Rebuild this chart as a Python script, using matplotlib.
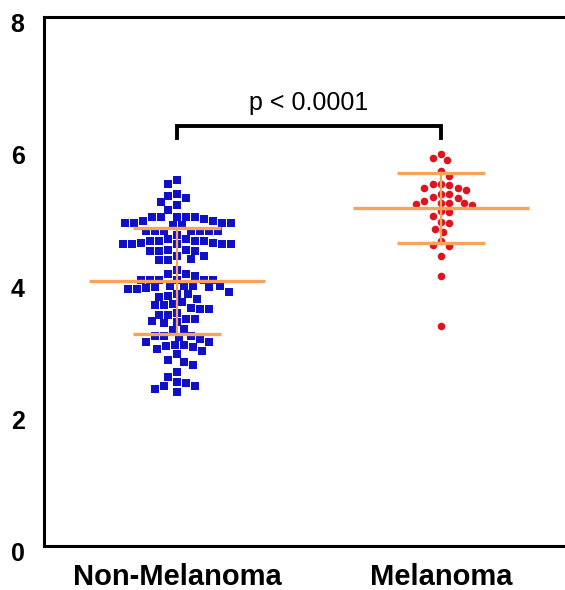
import numpy as np
import matplotlib
matplotlib.use('Agg')
import matplotlib.pyplot as plt
import matplotlib.transforms as mtransforms

plt.rcParams['font.family'] = ['Liberation Sans', 'DejaVu Sans']

# values
groups = ['Non-Melanoma', 'Melanoma']
non_melanoma = [5.53, 5.47, 5.33, 5.30, 5.27, 5.20, 5.15, 5.08,
                4.98, 4.98, 4.98, 4.98, 4.97, 4.94, 4.92, 4.91, 4.89, 4.89, 4.89, 4.89, 4.86, 4.86,
                4.77, 4.77, 4.77, 4.77, 4.77, 4.76, 4.76, 4.71, 4.64, 4.64, 4.62, 4.62, 4.61, 4.61,
                4.58, 4.58, 4.56, 4.56, 4.56, 4.56, 4.56,
                4.47, 4.47, 4.46, 4.46, 4.46, 4.38, 4.38, 4.34, 4.32, 4.32,
                4.18, 4.12, 4.11, 4.09, 4.03, 4.03, 4.03, 4.03, 4.03, 4.03,
                3.93, 3.93, 3.93, 3.93, 3.91, 3.91, 3.90, 3.88, 3.88, 3.84, 3.81, 3.81, 3.78, 3.76, 3.73,
                3.69, 3.66, 3.64, 3.64, 3.60, 3.58, 3.58, 3.52, 3.50, 3.50, 3.44, 3.43, 3.40, 3.38, 3.37,
                3.28, 3.26, 3.17, 3.17, 3.17, 3.16, 3.13, 3.08, 3.08, 3.04, 3.04, 3.02, 3.01, 2.98, 2.95, 2.90,
                2.82, 2.79, 2.73, 2.63, 2.55, 2.48, 2.46, 2.42, 2.42, 2.37, 2.33]
melanoma = [5.93, 5.87, 5.83, 5.67, 5.59, 5.48, 5.46, 5.48, 5.42, 5.41, 5.38, 5.33, 5.32,
            5.27, 5.28, 5.22, 5.19, 5.18, 5.18, 5.17, 5.16, 5.06, 5.05, 4.99, 4.90, 4.88,
            4.80, 4.75, 4.61, 4.55, 4.53, 4.38, 4.09, 3.32]
means = [4.01, 5.11]
sds = [0.80, 0.53]
p_text = 'p < 0.0001'
yticks = [0, 2, 4, 6, 8]


def swarm(values, xscale, yscale, d):
    # simple beeswarm in pixel space, nearest free slot to the centre
    vals = np.asarray(values)
    order = np.argsort(vals)[::-1]
    placed = []
    offsets = np.zeros(len(vals))
    flip = 1
    for i in order:
        y = vals[i] * yscale
        best = None
        for k in range(0, 80):
            for sgn in ([0] if k == 0 else [flip, -flip]):
                x = sgn * k * d / 4
                if all((x - px) ** 2 + (y - py) ** 2 >= d * d for px, py in placed):
                    best = x
                    break
            if best is not None:
                break
        flip = -flip
        placed.append((best, y))
        offsets[i] = best / xscale
    return offsets


fig = plt.figure(figsize=(5.65, 5.90), dpi=100)
ax = fig.add_axes([44 / 565, 44 / 590, 530 / 565, 529 / 590])
ax.set_xlim(0.496, 2.504)
ax.set_ylim(0, 8)

xscale = ax.bbox.width / (ax.get_xlim()[1] - ax.get_xlim()[0])
yscale = ax.bbox.height / (ax.get_ylim()[1] - ax.get_ylim()[0])

orange = '#f5a45a'
styles = [dict(marker='s', color='#1010c8', s=27, d=9.0),
          dict(marker='o', color='#de1420', s=30, d=8.4)]

for i, (vals, st) in enumerate(zip([non_melanoma, melanoma], styles)):
    xc = i + 1
    offs = swarm(vals, xscale, yscale, st['d'])
    ax.scatter(xc + offs, vals, marker=st['marker'], c=st['color'], s=st['s'],
               linewidths=0, zorder=2)
    m, sd = means[i], sds[i]
    ax.plot([xc - 0.335, xc + 0.335], [m, m], color=orange, lw=2.4, zorder=3, solid_capstyle='butt')
    ax.plot([xc - 0.165, xc + 0.165], [m + sd, m + sd], color=orange, lw=2.4, zorder=3, solid_capstyle='butt')
    ax.plot([xc - 0.165, xc + 0.165], [m - sd, m - sd], color=orange, lw=2.4, zorder=3, solid_capstyle='butt')
    ax.plot([xc, xc], [m - sd, m + sd], color=orange, lw=1.6, zorder=3)

# significance bracket
ax.plot([1, 1, 2, 2], [6.17, 6.35, 6.35, 6.17], color='black', lw=2.8,
        solid_joinstyle='miter', zorder=4)
ax.text(1.5, 6.60, p_text, ha='center', va='baseline', fontsize=18)

ax.set_xticks([1, 2])
ax.set_xticklabels(groups, fontsize=21, fontweight='bold')
ax.set_yticks(yticks)
ax.set_yticklabels([str(t) for t in yticks], fontsize=18, fontweight='bold')
ax.tick_params(axis='both', length=0)
ax.tick_params(axis='y', pad=14)
ax.tick_params(axis='x', pad=12)

off = mtransforms.ScaledTranslation(0, -4 / 72, fig.dpi_scale_trans)
for lab in ax.get_yticklabels():
    lab.set_transform(lab.get_transform() + off)

for sp in ax.spines.values():
    sp.set_linewidth(2.2)

fig.savefig('out.png', dpi=100)
